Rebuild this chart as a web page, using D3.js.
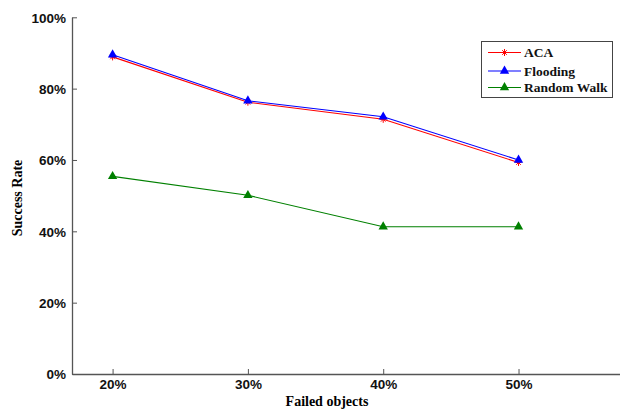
<!DOCTYPE html>
<html><head><meta charset="utf-8">
<script src="https://d3js.org/d3.v7.min.js"></script>
<style>body{margin:0;background:#fff}svg{display:block}</style>
</head><body>
<svg id="c" width="620" height="410"></svg>
<script>
const categories = [20, 30, 40, 50];
const xTickLabels = ["20%", "30%", "40%", "50%"];
const yTicks = [0, 20, 40, 60, 80, 100];
const acaValues = [88.9, 76.2, 71.4, 59.3];
const floodingValues = [89.5, 76.6, 72.1, 60.0];
const randomWalkValues = [55.4, 50.1, 41.3, 41.3];
const seriesNames = ["ACA", "Flooding", "Random Walk"];

const series = [
  {name: seriesNames[0], values: acaValues, color: "#ff0000", marker: "star"},
  {name: seriesNames[1], values: floodingValues, color: "#0000ff", marker: "tri"},
  {name: seriesNames[2], values: randomWalkValues, color: "#008000", marker: "tri"}
];

const svg = d3.select("#c");
const x = d3.scaleLinear().domain([17, 57.5]).range([72, 620]);
const y = d3.scaleLinear().domain([0, 100]).range([374, 17.3]);
const axisColor = "#555";
const tickFont = "Liberation Sans, Arial, sans-serif";
const serif = "Liberation Serif, Times New Roman, serif";

// x axis
const gx = svg.append("g").attr("transform", "translate(0,374)")
  .call(d3.axisBottom(x).tickValues(categories).tickSizeInner(-5).tickSizeOuter(0)
    .tickFormat((d, i) => xTickLabels[i]));
gx.select(".domain").attr("stroke", axisColor).attr("stroke-width", 1.3);
gx.selectAll(".tick line").attr("stroke", axisColor);
gx.selectAll(".tick text").attr("font-family", tickFont).attr("font-weight", "bold")
  .attr("font-size", 13.5).attr("fill", "#111").attr("dy", 0).attr("y", 15);

// y axis
const gy = svg.append("g").attr("transform", "translate(72,0)")
  .call(d3.axisLeft(y).tickValues(yTicks).tickSizeInner(-5).tickSizeOuter(0)
    .tickFormat(d => d + "%"));
gy.select(".domain").attr("stroke", axisColor).attr("stroke-width", 1.3);
gy.selectAll(".tick line").attr("stroke", axisColor);
gy.selectAll(".tick text").attr("font-family", tickFont).attr("font-weight", "bold")
  .attr("font-size", 13.5).attr("fill", "#111").attr("x", -6).attr("dy", "0.36em");

// axis titles
svg.append("text").attr("x", 327).attr("y", 406).attr("text-anchor", "middle")
  .attr("font-family", serif).attr("font-weight", "bold").attr("font-size", 14)
  .text("Failed objects");
svg.append("text").attr("transform", "translate(22,198) rotate(-90)").attr("text-anchor", "middle")
  .attr("font-family", serif).attr("font-weight", "bold").attr("font-size", 14)
  .text("Success Rate");

const line = d3.line().x((d, i) => x(categories[i])).y(d => y(d));
const tri = d3.symbol().type(d3.symbolTriangle).size(38);

function drawMarker(g, s, cx, cy) {
  if (s.marker === "tri") {
    g.append("path").attr("d", tri()).attr("transform", `translate(${cx},${cy})`)
      .attr("fill", s.color);
  } else {
    g.append("path").attr("d", `M${cx-3},${cy}H${cx+3}M${cx},${cy-3.5}V${cx===cx?cy+3.5:0}M${cx-2.3},${cy-2.3}L${cx+2.3},${cy+2.3}M${cx-2.3},${cy+2.3}L${cx+2.3},${cy-2.3}`)
      .attr("stroke", s.color).attr("stroke-width", 1).attr("fill", "none");
  }
}

series.forEach(s => {
  const g = svg.append("g");
  g.append("path").datum(s.values).attr("d", line).attr("fill", "none")
    .attr("stroke", s.color).attr("stroke-width", 1.1);
  s.values.forEach((v, i) => drawMarker(g, s, x(categories[i]), y(v)));
});

// legend
const lg = svg.append("g");
lg.append("rect").attr("x", 481.5).attr("y", 41.5).attr("width", 131).attr("height", 56)
  .attr("fill", "#fff").attr("stroke", "#444").attr("stroke-width", 1);
const ly = [52.5, 71, 87.5];
series.forEach((s, i) => {
  lg.append("line").attr("x1", 488).attr("x2", 521).attr("y1", ly[i]).attr("y2", ly[i])
    .attr("stroke", s.color).attr("stroke-width", 1.1);
  drawMarker(lg, s, 504.5, ly[i]);
  lg.append("text").attr("x", 524).attr("y", ly[i]).attr("dy", "0.35em")
    .attr("font-family", serif).attr("font-weight", "bold").attr("font-size", 13.5)
    .attr("fill", "#111").text(s.name);
});
</script>
</body></html>
